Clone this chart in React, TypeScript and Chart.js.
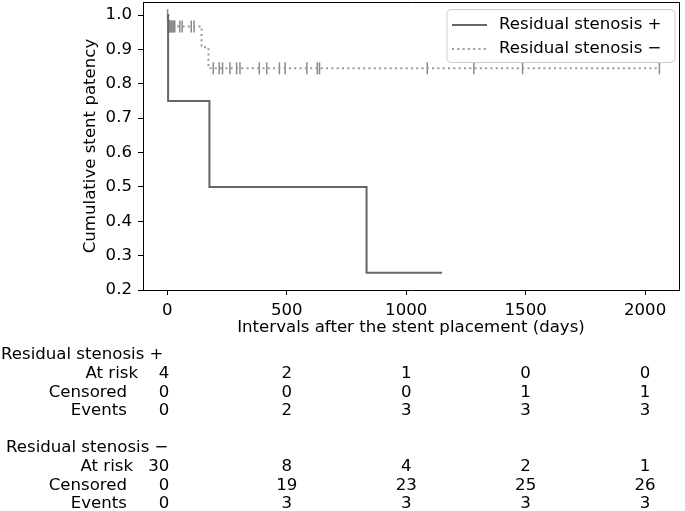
import { useEffect, useRef } from 'react';
import { Chart, registerables } from 'chart.js';

Chart.register(...registerables);

const FONT = '"DejaVu Sans", "Liberation Sans", sans-serif';
const FS = 16.6;

// ---- data ----
const posLabel = 'Residual stenosis +';
const negLabel = 'Residual stenosis \u2212';

const posTimes = [0, 3, 176, 834, 1150];
const posSurv = [1.0, 0.75, 0.5, 0.25, 0.25];

const negTimes = [0, 4, 143, 172, 2060];
const negSurv = [1.0, 0.967, 0.906, 0.845, 0.845];

const negCensorTimes = [
  1, 6, 9, 12, 15, 19, 23, 27, 31, 52, 62, 100, 112,
  192, 217, 231, 262, 290, 304, 385, 416, 469, 493, 584, 628, 637, 1088, 1283, 1487, 2060,
];
const negCensorSurv = [
  1.0, 0.967, 0.967, 0.967, 0.967, 0.967, 0.967, 0.967, 0.967, 0.967, 0.967, 0.967, 0.967,
  0.845, 0.845, 0.845, 0.845, 0.845, 0.845, 0.845, 0.845, 0.845, 0.845, 0.845, 0.845, 0.845, 0.845, 0.845, 0.845, 0.845,
];

const xTicks = [0, 500, 1000, 1500, 2000];
const yTicks = [0.2, 0.3, 0.4, 0.5, 0.6, 0.7, 0.8, 0.9, 1.0];

const xTitle = 'Intervals after the stent placement (days)';
const yTitle = 'Cumulative stent patency';

const rowLabels = ['At risk', 'Censored', 'Events'];
const posAtRisk = [4, 2, 1, 0, 0];
const posCensored = [0, 0, 0, 1, 1];
const posEvents = [0, 2, 3, 3, 3];
const negAtRisk = [30, 8, 4, 2, 1];
const negCensored = [0, 19, 23, 25, 26];
const negEvents = [0, 3, 3, 3, 3];

const POS_COLOR = '#666666';
const NEG_COLOR = '#999999';
const NEG_MARK = '#8a8a8a';

const overlay = {
  id: 'overlay',
  afterDraw(chart: any) {
    const { ctx, chartArea: a, scales } = chart;
    const xs = scales.x;
    ctx.save();
    // top/right frame
    ctx.strokeStyle = '#000';
    ctx.lineWidth = 1;
    ctx.beginPath();
    ctx.moveTo(a.left, Math.round(a.top) + 0.5);
    ctx.lineTo(Math.round(a.right) + 0.5, Math.round(a.top) + 0.5);
    ctx.lineTo(Math.round(a.right) + 0.5, a.bottom);
    ctx.stroke();

    ctx.fillStyle = '#000';
    ctx.font = `${FS}px ${FONT}`;
    ctx.textBaseline = 'middle';

    // axis titles
    ctx.textAlign = 'center';
    ctx.fillText(xTitle, (a.left + a.right) / 2, 328);
    ctx.save();
    ctx.translate(91, (a.top + a.bottom) / 2);
    ctx.rotate(-Math.PI / 2);
    ctx.fillText(yTitle, 0, 0);
    ctx.restore();

    // legend
    const lx = 447, ly = 9.5, lw = 228, lh = 53;
    ctx.beginPath();
    ctx.roundRect(lx, ly, lw, lh, 4);
    ctx.fillStyle = 'rgba(255,255,255,0.8)';
    ctx.fill();
    ctx.strokeStyle = '#cccccc';
    ctx.lineWidth = 1;
    ctx.stroke();
    const rows = [
      { label: posLabel, color: POS_COLOR, dash: [] as number[], y: 25 },
      { label: negLabel, color: NEG_COLOR, dash: [2, 3.3], y: 49 },
    ];
    rows.forEach((r) => {
      ctx.beginPath();
      ctx.setLineDash(r.dash);
      ctx.strokeStyle = r.color;
      ctx.lineWidth = 2;
      ctx.moveTo(452, r.y);
      ctx.lineTo(487, r.y);
      ctx.stroke();
      ctx.setLineDash([]);
      ctx.fillStyle = '#000';
      ctx.textAlign = 'left';
      ctx.fillText(r.label, 499, r.y);
    });

    // risk table
    const groups = [
      { header: posLabel, hx: 1, y0: 355, data: [posAtRisk, posCensored, posEvents], lab: [138, 127, 127] },
      { header: negLabel, hx: 6, y0: 448, data: [negAtRisk, negCensored, negEvents], lab: [133, 127, 127] },
    ];
    const dy = 18.6;
    groups.forEach((g) => {
      ctx.textAlign = 'left';
      ctx.fillText(g.header, g.hx, g.y0);
      g.data.forEach((vals, ri) => {
        const y = g.y0 + dy * (ri + 1);
        ctx.textAlign = 'right';
        ctx.fillText(rowLabels[ri], g.lab[ri], y);
        vals.forEach((v, ci) => {
          const px = xs.getPixelForValue(xTicks[ci]);
          if (ci === 0) {
            ctx.textAlign = 'right';
            ctx.fillText(String(v), px + 2, y);
          } else {
            ctx.textAlign = 'center';
            ctx.fillText(String(v), px, y);
          }
        });
      });
    });
    ctx.restore();
  },
};

export default function App() {
  const ref = useRef<HTMLCanvasElement | null>(null);
  useEffect(() => {
    if (!ref.current) return;
    const chart = new Chart(ref.current, {
      type: 'line',
      data: {
        datasets: [
          {
            label: posLabel,
            data: posTimes.map((t, i) => ({ x: t, y: posSurv[i] })),
            stepped: 'before',
            borderColor: POS_COLOR,
            borderWidth: 2,
            pointRadius: 0,
            fill: false,
          },
          {
            label: negLabel,
            data: negTimes.map((t, i) => ({ x: t, y: negSurv[i] })),
            stepped: 'before',
            borderColor: NEG_COLOR,
            borderWidth: 2,
            borderDash: [2, 3.3],
            pointRadius: 0,
            fill: false,
          },
          {
            label: 'censored',
            data: negCensorTimes.map((t, i) => ({ x: t, y: negCensorSurv[i] })),
            showLine: false,
            pointStyle: 'line',
            rotation: 90,
            pointRadius: 6,
            pointBorderWidth: 1.5,
            borderColor: NEG_MARK,
            backgroundColor: NEG_MARK,
          },
        ],
      } as any,
      options: {
        animation: false,
        responsive: false,
        devicePixelRatio: 1,
        layout: { autoPadding: false, padding: { left: 0, right: 6, top: 2, bottom: 173 } },
        plugins: { legend: { display: false }, tooltip: { enabled: false } },
        scales: {
          x: {
            type: 'linear',
            min: -102,
            max: 2142,
            afterBuildTicks: (s: any) => {
              s.ticks = xTicks.map((v) => ({ value: v }));
            },
            afterFit: (s: any) => {
              s.height = 48;
              s.paddingLeft = 0;
              s.paddingRight = 0;
            },
            grid: { display: true, drawOnChartArea: false, drawTicks: true, tickLength: 5, color: '#000' },
            border: { display: true, color: '#000', width: 1 },
            ticks: { color: '#000', font: { family: FONT, size: FS }, padding: 6, maxRotation: 0, callback: (v: any) => String(v) },
          },
          y: {
            type: 'linear',
            min: 0.2,
            max: 1.038,
            afterBuildTicks: (s: any) => {
              s.ticks = yTicks.map((v) => ({ value: v }));
            },
            afterFit: (s: any) => {
              s.width = 143;
              s.paddingTop = 0;
              s.paddingBottom = 0;
            },
            grid: { display: true, drawOnChartArea: false, drawTicks: true, tickLength: 5, color: '#000' },
            border: { display: true, color: '#000', width: 1 },
            ticks: { color: '#000', font: { family: FONT, size: FS }, padding: 6, callback: (v: any) => Number(v).toFixed(1) },
          },
        },
      } as any,
      plugins: [overlay],
    });
    return () => chart.destroy();
  }, []);
  return (
    <div style={{ position: 'absolute', left: 0, top: 0, width: 685, height: 511, background: '#fff' }}>
      <canvas ref={ref} width={685} height={511} style={{ width: 685, height: 511, display: 'block' }} />
    </div>
  );
}
